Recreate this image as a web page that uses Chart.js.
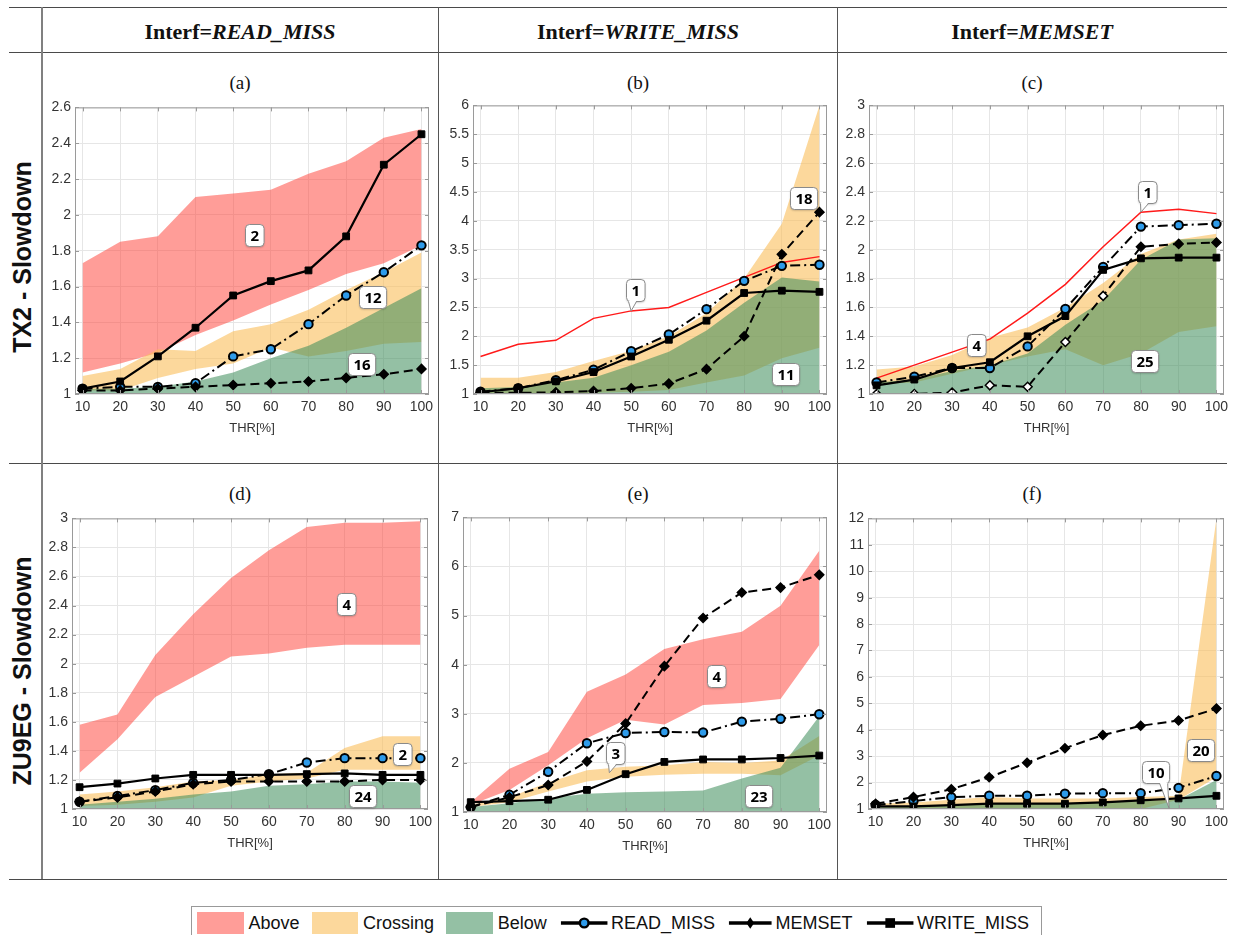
<!DOCTYPE html>
<html>
<head>
<meta charset="utf-8">
<script src="https://cdn.jsdelivr.net/npm/chart.js@4.4.1/dist/chart.umd.min.js"></script>
<style>
  body { margin: 0; background: #fff; }
  #page { position: relative; width: 1235px; height: 935px; overflow: hidden; background: #fff; }
  #page canvas { position: absolute; }
  .hl { position: absolute; height: 0; border-top: 1.5px solid #4a4a4a; }
  .vl { position: absolute; width: 0; border-left: 1px solid #555; }
  .head { position: absolute; top: 19px; font: bold 22px "Liberation Serif", "Times New Roman", serif; color: #111; transform: translateX(-50%); white-space: nowrap; }
  .head i { font-style: italic; }
  .sub { position: absolute; font: 19px "Liberation Serif", "Times New Roman", serif; color: #111; transform: translate(-50%, -50%); }
  .row { position: absolute; font: bold 25px "Liberation Sans", Arial, sans-serif; color: #111; white-space: nowrap; transform: translate(-50%, -50%) rotate(-90deg); }
  #legend { position: absolute; left: 191px; top: 906px; width: 851px; height: 34px; border: 1px solid #999; display: flex; align-items: center; font: 18px "Liberation Sans", Arial, sans-serif; color: #111; box-sizing: border-box; padding-left: 5px; }
  #legend .sw { display: inline-block; width: 48px; height: 22px; margin-right: 5px; }
  #legend .tx { margin-right: 12px; }
  #legend svg { margin-right: 2px; }
</style>
</head>
<body>
<div id="page">
  <div class="hl" style="left:9px; width:1218px; top:7px;"></div>
  <div class="hl" style="left:9px; width:1218px; top:52px;"></div>
  <div class="hl" style="left:9px; width:1218px; top:463px;"></div>
  <div class="hl" style="left:9px; width:1218px; top:879px;"></div>
  <div class="vl" style="left:41px; top:7px; height:872px; border-left:2px solid #808080;"></div>
  <div class="vl" style="left:438px; top:7px; height:872px;"></div>
  <div class="vl" style="left:837px; top:7px; height:872px;"></div>

  <div class="head" style="left:240px;">Interf=<i>READ_MISS</i></div>
  <div class="head" style="left:638px;">Interf=<i>WRITE_MISS</i></div>
  <div class="head" style="left:1032px;">Interf=<i>MEMSET</i></div>

  <div class="sub" style="left:240px; top:83px;">(a)</div>
  <div class="sub" style="left:638px; top:83px;">(b)</div>
  <div class="sub" style="left:1032px; top:83px;">(c)</div>
  <div class="sub" style="left:240px; top:494px;">(d)</div>
  <div class="sub" style="left:638px; top:494px;">(e)</div>
  <div class="sub" style="left:1032px; top:494px;">(f)</div>

  <div class="row" style="left:22px; top:257px;">TX2 - Slowdown</div>
  <div class="row" style="left:22px; top:671px;">ZU9EG - Slowdown</div>

  <div id="legend"></div>
</div>

<script>
// Categories (x axis)
const thr = [10, 20, 30, 40, 50, 60, 70, 80, 90, 100];
const ones = [1, 1, 1, 1, 1, 1, 1, 1, 1, 1];

// (a) TX2, Interf=READ_MISS
const aTicks = [1, 1.2, 1.4, 1.6, 1.8, 2, 2.2, 2.4, 2.6];
const aAboveLo = [1.12, 1.17, 1.23, 1.33, 1.41, 1.50, 1.58, 1.67, 1.73, 1.83];
const aAboveHi = [1.73, 1.85, 1.88, 2.10, 2.12, 2.14, 2.23, 2.30, 2.43, 2.48];
const aCrossLo = [1.02, 1.02, 1.09, 1.14, 1.17, 1.26, 1.21, 1.24, 1.28, 1.29];
const aCrossHi = [1.10, 1.14, 1.25, 1.24, 1.35, 1.39, 1.47, 1.58, 1.68, 1.79];
const aBelowHi = [1.03, 1.03, 1.04, 1.07, 1.12, 1.20, 1.27, 1.37, 1.48, 1.59];
const aRead = [1.03, 1.04, 1.04, 1.06, 1.21, 1.25, 1.39, 1.55, 1.68, 1.83];
const aMem = [1.02, 1.02, 1.03, 1.04, 1.05, 1.06, 1.07, 1.09, 1.11, 1.14];
const aWrite = [1.03, 1.07, 1.21, 1.37, 1.55, 1.63, 1.69, 1.88, 2.28, 2.45];
const aNotes = [["2", 55.6, 1.89], ["12", 87, 1.54], ["16", 84, 1.17]];

// (b) TX2, Interf=WRITE_MISS
const bTicks = [1, 1.5, 2, 2.5, 3, 3.5, 4, 4.5, 5, 5.5, 6];
const bAbove = [1.65, 1.86, 1.93, 2.31, 2.44, 2.50, 2.76, 3.02, 3.28, 3.38];
const bCrossLo = [1.0, 1.0, 1.0, 1.02, 1.04, 1.07, 1.20, 1.32, 1.62, 1.80];
const bCrossHi = [1.28, 1.28, 1.38, 1.57, 1.75, 2.00, 2.40, 3.00, 3.95, 6.0];
const bBelowHi = [1.10, 1.12, 1.20, 1.28, 1.50, 1.73, 2.10, 2.58, 3.02, 2.95];
const bRead = [1.04, 1.10, 1.24, 1.42, 1.74, 2.03, 2.47, 2.96, 3.22, 3.24];
const bMem = [1.02, 1.02, 1.03, 1.05, 1.10, 1.18, 1.43, 2.00, 3.42, 4.15];
const bWrite = [1.03, 1.10, 1.22, 1.38, 1.65, 1.94, 2.27, 2.75, 2.79, 2.77];
const bNotes = [["1", 51.2, 2.8, 50, 2.44], ["18", 95.8, 4.4], ["11", 91, 1.34]];

// (c) TX2, Interf=MEMSET
const cTicks = [1, 1.2, 1.4, 1.6, 1.8, 2, 2.2, 2.4, 2.6, 2.8, 3];
const cAbove = [1.11, 1.20, 1.29, 1.38, 1.56, 1.76, 2.02, 2.26, 2.28, 2.25];
const cCrossLo = [1.07, 1.08, 1.14, 1.20, 1.26, 1.31, 1.20, 1.28, 1.43, 1.47];
const cCrossHi = [1.17, 1.19, 1.27, 1.39, 1.46, 1.60, 1.77, 1.97, 2.07, 2.11];
const cBelowHi = [1.08, 1.10, 1.16, 1.20, 1.28, 1.48, 1.65, 1.93, 2.07, 2.08];
const cRead = [1.08, 1.12, 1.18, 1.18, 1.33, 1.59, 1.88, 2.16, 2.17, 2.18];
const cMem = [1.00, 1.00, 1.01, 1.06, 1.05, 1.36, 1.68, 2.02, 2.04, 2.05];
const cWrite = [1.06, 1.10, 1.18, 1.22, 1.40, 1.54, 1.86, 1.94, 1.945, 1.945];
const cMemFill = ["#fff", "#fff", "#fff", "#fff", "#fff", "#fff", "#fff", "#000", "#000", "#000"];
const cNotes = [["1", 81.6, 2.4, 80, 2.26], ["4", 36.3, 1.34], ["25", 81, 1.23]];

// (d) ZU9EG, Interf=READ_MISS
const dTicks = [1, 1.2, 1.4, 1.6, 1.8, 2, 2.2, 2.4, 2.6, 2.8, 3];
const dAboveLo = [1.25, 1.48, 1.77, 1.91, 2.05, 2.07, 2.11, 2.13, 2.13, 2.13];
const dAboveHi = [1.58, 1.65, 2.06, 2.34, 2.59, 2.78, 2.94, 2.97, 2.97, 2.98];
const dCrossLo = [1.02, 1.03, 1.05, 1.08, 1.16, 1.19, 1.21, 1.27, 1.27, 1.27];
const dCrossHi = [1.10, 1.12, 1.15, 1.19, 1.20, 1.24, 1.25, 1.42, 1.50, 1.50];
const dBelowHi = [1.03, 1.05, 1.07, 1.10, 1.12, 1.16, 1.17, 1.19, 1.19, 1.18];
const dRead = [1.05, 1.09, 1.13, 1.18, 1.20, 1.24, 1.32, 1.35, 1.35, 1.35];
const dMem = [1.05, 1.08, 1.12, 1.17, 1.19, 1.19, 1.19, 1.19, 1.20, 1.20];
const dWrite = [1.15, 1.175, 1.21, 1.235, 1.235, 1.235, 1.24, 1.245, 1.235, 1.235];
const dNotes = [["4", 80.4, 2.41], ["2", 95.3, 1.38], ["24", 84.6, 1.09]];

// (e) ZU9EG, Interf=WRITE_MISS
const eTicks = [1, 2, 3, 4, 5, 6, 7];
const eAboveLo = [1.15, 1.45, 1.95, 2.50, 2.88, 2.78, 3.18, 3.22, 3.30, 4.40];
const eAboveHi = [1.20, 1.88, 2.22, 3.45, 3.80, 4.32, 4.52, 4.67, 5.20, 6.32];
const eCrossLo = [1.10, 1.20, 1.42, 1.62, 1.72, 1.76, 1.78, 1.78, 1.75, 2.15];
const eCrossHi = [1.15, 1.30, 1.60, 1.85, 1.92, 1.95, 2.02, 2.00, 2.05, 2.55];
const eBelowHi = [1.10, 1.18, 1.28, 1.37, 1.40, 1.42, 1.44, 1.68, 1.90, 2.95];
const eRead = [1.10, 1.35, 1.82, 2.40, 2.61, 2.63, 2.62, 2.84, 2.90, 2.99];
const eMem = [1.10, 1.30, 1.55, 2.03, 2.80, 3.97, 4.95, 5.47, 5.57, 5.83];
const eWrite = [1.20, 1.22, 1.25, 1.45, 1.77, 2.02, 2.07, 2.07, 2.10, 2.15];
const eNotes = [["4", 73.3, 3.78], ["3", 47.4, 2.21, 45.8, 1.8], ["23", 84.4, 1.33]];

// (f) ZU9EG, Interf=MEMSET
const fTicks = [1, 2, 3, 4, 5, 6, 7, 8, 9, 10, 11, 12];
const fCrossLo = [1.0, 1.0, 1.0, 1.0, 1.0, 1.0, 1.0, 1.0, 1.35, 2.2];
const fCrossHi = [1.20, 1.25, 1.35, 1.45, 1.40, 1.40, 1.40, 1.45, 1.50, 12.0];
const fBelowHi = [1.10, 1.10, 1.15, 1.20, 1.20, 1.20, 1.25, 1.30, 1.35, 2.10];
const fRead = [1.15, 1.30, 1.45, 1.50, 1.50, 1.58, 1.60, 1.60, 1.80, 2.25];
const fMem = [1.20, 1.45, 1.75, 2.20, 2.75, 3.30, 3.80, 4.15, 4.35, 4.80];
const fWrite = [1.10, 1.10, 1.15, 1.20, 1.20, 1.20, 1.25, 1.33, 1.40, 1.50];
const fNotes = [["20", 95.9, 3.25], ["10", 84, 2.4, 87.5, 1.03]];

const FONT = '"Liberation Sans", Arial, sans-serif';
const RED = "rgba(255, 60, 50, 0.5)";
const ORANGE = "rgba(250, 190, 90, 0.6)";
const GREEN = "rgba(60, 140, 90, 0.55)";
const BLUE = "#2e9bea";

// Panel placement: canvas corner, y axis width, plot area size
const panels = [
  { left: 42, top: 95, yW: 33, w: 354, h: 289, ticks: aTicks, above: [aAboveLo, aAboveHi], cross: [aCrossLo, aCrossHi], below: aBelowHi, read: aRead, mem: aMem, write: aWrite, notes: aNotes },
  { left: 438, top: 93, yW: 35, w: 354, h: 291, ticks: bTicks, aboveLine: bAbove, cross: [bCrossLo, bCrossHi], below: bBelowHi, read: bRead, mem: bMem, write: bWrite, notes: bNotes },
  { left: 837, top: 93, yW: 32, w: 355, h: 291, ticks: cTicks, aboveLine: cAbove, cross: [cCrossLo, cCrossHi], below: cBelowHi, read: cRead, mem: cMem, write: cWrite, memFill: cMemFill, notes: cNotes },
  { left: 42, top: 506, yW: 30, w: 356, h: 293, ticks: dTicks, above: [dAboveLo, dAboveHi], cross: [dCrossLo, dCrossHi], below: dBelowHi, read: dRead, mem: dMem, write: dWrite, notes: dNotes },
  { left: 438, top: 505, yW: 25, w: 364, h: 297, ticks: eTicks, above: [eAboveLo, eAboveHi], cross: [eCrossLo, eCrossHi], below: eBelowHi, read: eRead, mem: eMem, write: eWrite, notes: eNotes },
  { left: 837, top: 506, yW: 31, w: 356, h: 293, ticks: fTicks, cross: [fCrossLo, fCrossHi], below: fBelowHi, read: fRead, mem: fMem, write: fWrite, notes: fNotes }
];

function pts(arr) {
  return thr.map(function (x, i) {
    return { x: x, y: arr[i] };
  });
}

// two datasets, the upper one filled down to the lower one
function band(lo, hi, color, order) {
  return [
    { data: pts(lo), borderColor: "rgba(0,0,0,0)", borderWidth: 0, pointRadius: 0, fill: false, order: order },
    { data: pts(hi), borderColor: "rgba(0,0,0,0)", borderWidth: 0, pointRadius: 0, fill: "-1", backgroundColor: color, order: order }
  ];
}

// box around the axes, inner tick marks and the numbered callouts
const framePlugin = {
  id: "frame",
  afterDatasetsDraw: function (chart) {
    const a = chart.chartArea;
    const ctx = chart.ctx;
    ctx.save();
    ctx.strokeStyle = "#9a9a9a";
    ctx.lineWidth = 1;
    ctx.strokeRect(a.left + 0.5, a.top + 0.5, a.right - a.left - 1, a.bottom - a.top - 1);
    ctx.beginPath();
    chart.scales.x.ticks.forEach(function (t) {
      const px = Math.round(chart.scales.x.getPixelForValue(t.value)) + 0.5;
      ctx.moveTo(px, a.bottom); ctx.lineTo(px, a.bottom - 4);
      ctx.moveTo(px, a.top); ctx.lineTo(px, a.top + 4);
    });
    chart.scales.y.ticks.forEach(function (t) {
      const py = Math.round(chart.scales.y.getPixelForValue(t.value)) + 0.5;
      ctx.moveTo(a.left, py); ctx.lineTo(a.left + 4, py);
      ctx.moveTo(a.right, py); ctx.lineTo(a.right - 4, py);
    });
    ctx.stroke();
    ctx.restore();
  },
  afterDraw: function (chart) {
    const notes = chart.options.plugins.frame.notes || [];
    const ctx = chart.ctx;
    const sx = chart.scales.x;
    const sy = chart.scales.y;
    ctx.save();
    ctx.font = 'bold 15px "Open Sans", Arial, sans-serif';
    notes.forEach(function (n) {
      const cx = sx.getPixelForValue(n[1]);
      const cy = sy.getPixelForValue(n[2]);
      const w = ctx.measureText(n[0]).width + 10;
      const h = 22;
      const x0 = Math.round(cx - w / 2) + 0.5;
      const y0 = Math.round(cy - h / 2) + 0.5;
      ctx.shadowColor = "rgba(0,0,0,0.25)";
      ctx.shadowBlur = 2;
      ctx.shadowOffsetY = 1;
      ctx.beginPath();
      ctx.roundRect(x0, y0, w, h, 4);
      ctx.fillStyle = "#fff";
      ctx.fill();
      ctx.shadowColor = "rgba(0,0,0,0)";
      ctx.strokeStyle = "#8a8a8a";
      ctx.lineWidth = 1;
      ctx.stroke();
      if (n.length > 3) {
        const tx = sx.getPixelForValue(n[3]);
        const ty = sy.getPixelForValue(n[4]);
        const bc = Math.min(Math.max(tx, x0 + 6), x0 + w - 6);
        const by = y0 + h;
        ctx.beginPath();
        ctx.moveTo(bc - 4, by - 1);
        ctx.lineTo(tx, ty);
        ctx.lineTo(bc + 4, by - 1);
        ctx.closePath();
        ctx.fill();
        ctx.beginPath();
        ctx.moveTo(bc - 4, by);
        ctx.lineTo(tx, ty);
        ctx.lineTo(bc + 4, by);
        ctx.stroke();
      }
      ctx.fillStyle = "#000";
      ctx.textAlign = "center";
      ctx.textBaseline = "middle";
      ctx.fillText(n[0], x0 + w / 2, y0 + h / 2 + 1);
    });
    ctx.restore();
  }
};

const page = document.getElementById("page");

panels.forEach(function (p) {
  const cv = document.createElement("canvas");
  const cw = p.yW + p.w + 10;
  const ch = p.h + 54;
  cv.width = cw;
  cv.height = ch;
  cv.style.width = cw + "px";
  cv.style.height = ch + "px";
  cv.style.left = p.left + "px";
  cv.style.top = p.top + "px";
  page.appendChild(cv);

  const ds = [];
  // lines first, so they end up on top
  ds.push({ data: pts(p.write), borderColor: "#000", borderWidth: 2.2, pointStyle: "rect", pointRadius: 4.8, pointBackgroundColor: "#000", pointBorderColor: "#000", pointBorderWidth: 1, fill: false, order: 1 });
  ds.push({ data: pts(p.mem), borderColor: "#000", borderWidth: 2, borderDash: [9, 5], pointStyle: "rectRot", pointRadius: 4.5, pointBackgroundColor: p.memFill || "#000", pointBorderColor: "#000", pointBorderWidth: 1.5, fill: false, order: 2 });
  ds.push({ data: pts(p.read), borderColor: "#000", borderWidth: 2, borderDash: [10, 4, 2, 4], pointStyle: "circle", pointRadius: 4.2, pointBackgroundColor: BLUE, pointBorderColor: "#000", pointBorderWidth: 2, fill: false, order: 3 });
  if (p.aboveLine) {
    ds.push({ data: pts(p.aboveLine), borderColor: "#ff1a1a", borderWidth: 1.5, pointRadius: 0, fill: false, order: 4 });
  }
  ds.push.apply(ds, band(ones, p.below, GREEN, 7));
  ds.push.apply(ds, band(p.cross[0], p.cross[1], ORANGE, 8));
  if (p.above) {
    ds.push.apply(ds, band(p.above[0], p.above[1], RED, 9));
  }

  new Chart(cv, {
    type: "line",
    data: { datasets: ds },
    options: {
      responsive: false,
      animation: false,
      devicePixelRatio: 1,
      layout: { padding: { top: 10, right: 10, left: 0, bottom: 0 } },
      elements: { line: { tension: 0 } },
      plugins: {
        legend: { display: false },
        tooltip: { enabled: false },
        frame: { notes: p.notes }
      },
      scales: {
        x: {
          type: "linear",
          min: 8,
          max: 102,
          afterBuildTicks: function (s) {
            s.ticks = thr.map(function (v) { return { value: v }; });
          },
          afterFit: function (s) { s.height = 44; },
          grid: { color: "#e6e6e6", drawTicks: false },
          border: { display: false },
          ticks: {
            color: "#333", padding: 5, maxRotation: 0, autoSkip: false,
            font: { family: FONT, size: 14 },
            callback: function (v) { return String(v); }
          },
          title: { display: true, text: "THR[%]", color: "#333", padding: { top: 0, bottom: 2 }, font: { family: FONT, size: 13 } }
        },
        y: {
          type: "linear",
          min: p.ticks[0],
          max: p.ticks[p.ticks.length - 1],
          afterBuildTicks: function (s) {
            s.ticks = p.ticks.map(function (v) { return { value: v }; });
          },
          afterFit: function (s) { s.width = p.yW; },
          grid: { color: "#e6e6e6", drawTicks: false },
          border: { display: false },
          ticks: {
            color: "#333", padding: 4, autoSkip: false,
            font: { family: FONT, size: 14 },
            callback: function (v) { return String(v); }
          }
        }
      }
    },
    plugins: [framePlugin]
  });
});

// Shared legend at the bottom
function lineIcon(kind) {
  let marker = "";
  if (kind === "circle") marker = '<circle cx="26" cy="10" r="4.5" fill="' + BLUE + '" stroke="#000" stroke-width="2.5"/>';
  if (kind === "diamond") marker = '<polygon points="24,4 28,10 24,16 20,10" fill="#000"/>';
  if (kind === "square") marker = '<rect x="21" y="5" width="10" height="10" fill="#000"/>';
  const w = kind === "diamond" ? 48 : 52;
  return '<svg width="' + w + '" height="20" viewBox="0 0 ' + w + ' 20"><line x1="2" y1="10" x2="' + (w - 2) + '" y2="10" stroke="#000" stroke-width="3.5"/>' + marker + "</svg>";
}

const legendItems = [
  ["sw", RED, "Above"],
  ["sw", ORANGE, "Crossing"],
  ["sw", GREEN, "Below"],
  ["ln", "circle", "READ_MISS"],
  ["ln", "diamond", "MEMSET"],
  ["ln", "square", "WRITE_MISS"]
];
const legend = document.getElementById("legend");
legend.innerHTML = legendItems.map(function (it) {
  const icon = it[0] === "sw" ? '<span class="sw" style="background:' + it[1] + '"></span>' : lineIcon(it[1]);
  return icon + '<span class="tx">' + it[2] + "</span>";
}).join("");
</script>
</body>
</html>
